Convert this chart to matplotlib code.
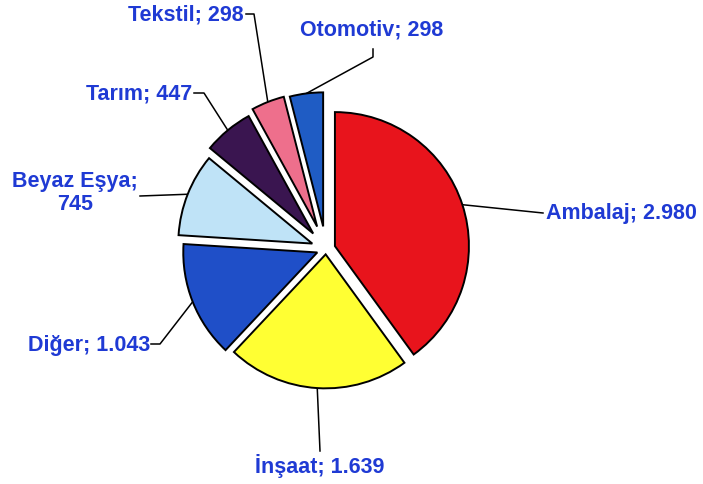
import matplotlib
matplotlib.use('Agg')
import matplotlib.pyplot as plt
import numpy as np

# data
names = ['Ambalaj', 'İnşaat', 'Diğer', 'Beyaz Eşya', 'Tarım', 'Tekstil', 'Otomotiv']
values = [2980, 1639, 1043, 745, 447, 298, 298]
value_labels = ['2.980', '1.639', '1.043', '745', '447', '298', '298']

# style
colors = ['#e8141c', '#ffff33', '#1f4fc8', '#bfe3f7', '#3a1550', '#ee6f8c', '#1f5cc4']
explode = [0.07, 0.04, 0.07, 0.11, 0.15, 0.18, 0.17]
txt_color = '#1f3ad4'

# figure: 1 data unit = 134 px, pie centre at pixel (326, 250)
W, H = 703, 485
s = 134.0
cx, cy = 326, 250
fig = plt.figure(figsize=(W/100, H/100), dpi=100)
ax = fig.add_axes([0, 0, 1, 1])

def px(x, y):
    return (x-cx)/s, (cy-y)/s

wedges, _ = ax.pie(values, startangle=90, counterclock=False, explode=explode,
                   colors=colors, radius=1, center=(0, 0),
                   wedgeprops=dict(edgecolor='black', linewidth=1.4))
ax.set_xlim(-cx/s, (W-cx)/s)
ax.set_ylim(-(H-cy)/s, cy/s)
ax.set_aspect('equal')
ax.axis('off')

# labels "name; value" (Beyaz Eşya on two lines)
label_text = []
for n, v in zip(names, value_labels):
    sep = ';\n' if n == 'Beyaz Eşya' else '; '
    label_text.append(n + sep + v)

# label layout (pixel positions)
label_pos = [(546, 214), (320, 466), (150, 345), (75, 193), (192, 94), (244, 15), (372, 30)]
label_ha = ['left', 'center', 'right', 'center', 'right', 'right', 'center']
line_end = [(543, 214), (320, 452), (151, 345), (140, 197), (194, 94), (246, 15), (373, 50)]
line_elbow = [None, None, (160, 345), None, (204, 94), (254, 15), (373, 58)]

for i, w in enumerate(wedges):
    ang = np.deg2rad((w.theta1 + w.theta2) / 2)
    x0 = w.center[0] + w.r*np.cos(ang)
    y0 = w.center[1] + w.r*np.sin(ang)
    xs, ys = [x0], [y0]
    if line_elbow[i] is not None:
        ex, ey = px(*line_elbow[i])
        xs.append(ex); ys.append(ey)
    lx, ly = px(*line_end[i])
    xs.append(lx); ys.append(ly)
    ax.plot(xs, ys, color='black', linewidth=1.1, zorder=0)
    tx, ty = px(*label_pos[i])
    ax.text(tx, ty, label_text[i], ha=label_ha[i], va='center', color=txt_color,
            fontsize=15.5, fontweight='bold', family='Liberation Sans', linespacing=1.1)

fig.savefig('out.png', dpi=100, facecolor='white')
